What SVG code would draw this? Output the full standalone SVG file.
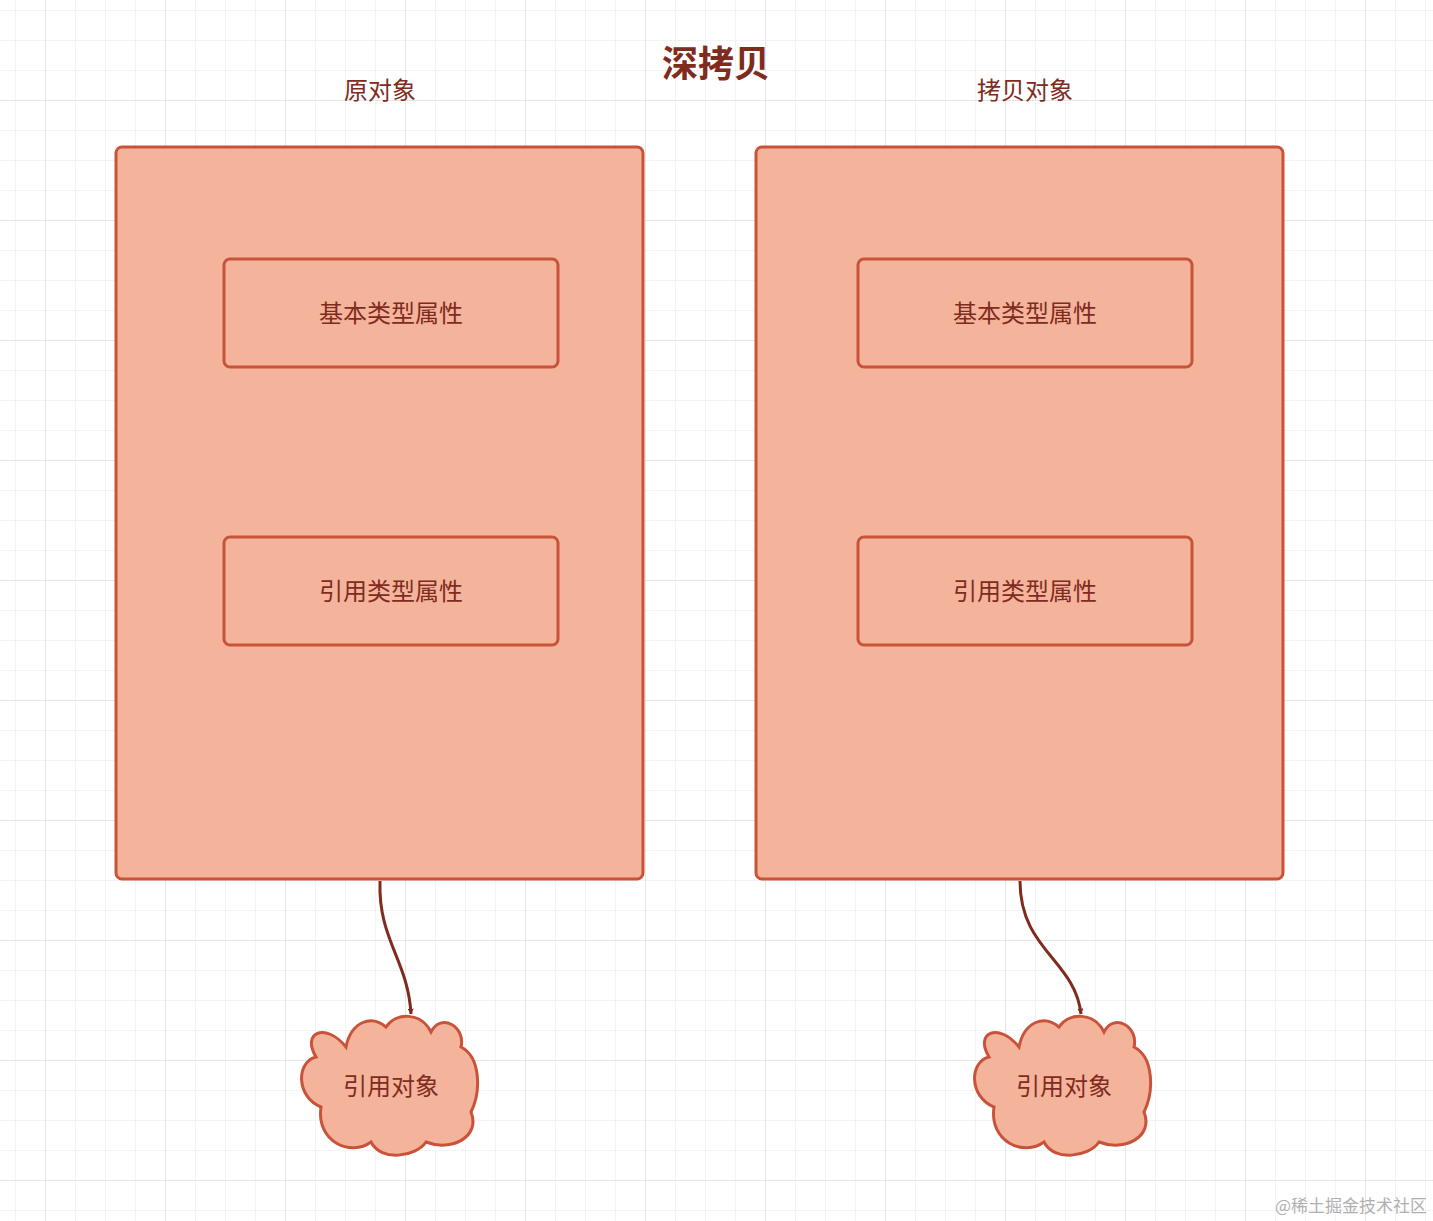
<svg xmlns="http://www.w3.org/2000/svg" width="1433" height="1221" viewBox="0 0 1433 1221">
<defs>
<pattern id="minor" x="15" y="10" width="30" height="30" patternUnits="userSpaceOnUse"><path d="M0 0H30M0 0V30" fill="none" stroke="#f0f0f0" stroke-width="1.5"/></pattern>
<pattern id="major" x="45" y="100" width="120" height="120" patternUnits="userSpaceOnUse"><path d="M0 0H120M0 0V120" fill="none" stroke="#e6e6e6" stroke-width="2"/></pattern>
<marker id="arr" viewBox="0 0 10 10" refX="9" refY="5" markerWidth="6" markerHeight="6" orient="auto" markerUnits="userSpaceOnUse"><path d="M0 0L10 5L0 10Z" fill="#7f2b1e"/></marker>
<path id="cloud" d="M45 30 C25 5,0 15,15 40 C-5 45,-5 80,20 90 C15 125,50 140,70 125 C80 145,115 140,125 125 C150 135,180 120,170 95 C180 75,180 40,160 30 C165 10,140 -5,130 15 C120 -5,95 -5,85 10 C70 -3,50 5,45 30Z"/>
<style>
.box{fill:#f4b39b;stroke:#c9533a;stroke-width:3}
.t{font-family:"Noto Sans CJK SC",sans-serif;fill:#7f2b1e;text-anchor:middle}
.c{fill:none;stroke:#7f2b1e;stroke-width:3;marker-end:url(#arr)}
</style>
</defs>
<rect width="1433" height="1221" fill="#fff"/>
<rect width="1433" height="1221" fill="url(#minor)"/>
<rect width="1433" height="1221" fill="url(#major)"/>
<text class="t" x="716" y="77" font-size="36" font-weight="bold">深拷贝</text>
<g id="left">
<text class="t" x="380" y="99" font-size="24">原对象</text>
<rect class="box" x="116" y="147" width="527" height="732" rx="6"/>
</g>
<g id="l1"><rect class="box" x="224" y="259" width="334" height="108" rx="6"/><text class="t" x="391" y="322" font-size="24">基本类型属性</text></g>
<g id="l2"><rect class="box" x="224" y="537" width="334" height="108" rx="6"/><text class="t" x="391" y="600" font-size="24">引用类型属性</text></g>
<g id="right">
<text class="t" x="1025" y="99" font-size="24">拷贝对象</text>
<rect class="box" x="756" y="147" width="527" height="732" rx="6"/>
</g>
<g id="r1"><rect class="box" x="858" y="259" width="334" height="108" rx="6"/><text class="t" x="1025" y="322" font-size="24">基本类型属性</text></g>
<g id="r2"><rect class="box" x="858" y="537" width="334" height="108" rx="6"/><text class="t" x="1025" y="600" font-size="24">引用类型属性</text></g>
<g id="lc"><use href="#cloud" class="box" transform="translate(301,1017)"/><text class="t" x="391" y="1095" font-size="24">引用对象</text></g>
<g id="rc"><use href="#cloud" class="box" transform="translate(974,1017)"/><text class="t" x="1064" y="1095" font-size="24">引用对象</text></g>
<g id="connectors">
<path class="c" d="M380 881 C378 940,408 960,411 1014"/>
<path class="c" d="M1020 881 C1020 950,1075 960,1081 1014"/>
</g>
<text x="1427" y="1212" font-family="Noto Sans CJK SC,sans-serif" font-size="17" fill="#b0b0b0" text-anchor="end">@稀土掘金技术社区</text>
</svg>
